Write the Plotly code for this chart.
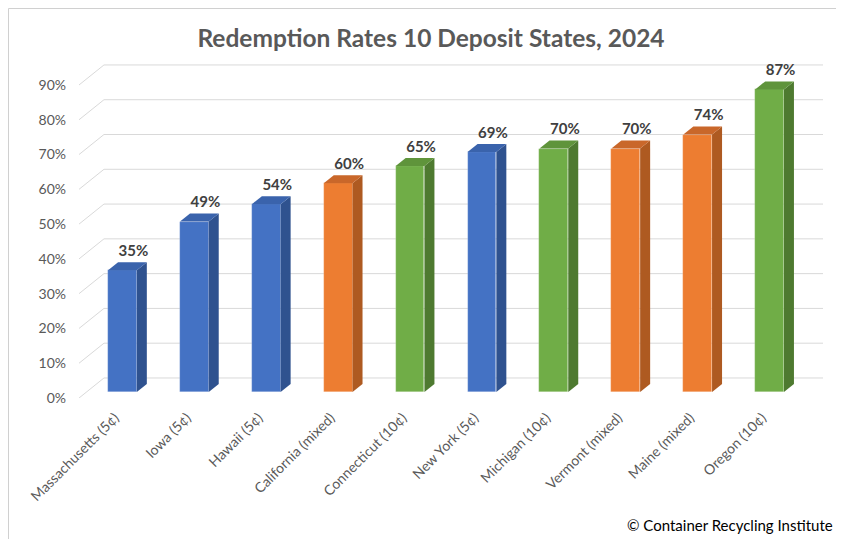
import plotly.graph_objects as go

# ---- data ----
states = ["Massachusetts (5¢)", "Iowa (5¢)", "Hawaii (5¢)", "California (mixed)",
          "Connecticut (10¢)", "New York (5¢)", "Michigan (10¢)", "Vermont (mixed)",
          "Maine (mixed)", "Oregon (10¢)"]
rates = [35, 49, 54, 60, 65, 69, 70, 70, 74, 87]
deposit_type = ["5", "5", "5", "mixed", "10", "5", "10", "mixed", "mixed", "10"]
tick_values = [0, 10, 20, 30, 40, 50, 60, 70, 80, 90]
tick_labels = ["0%", "10%", "20%", "30%", "40%", "50%", "60%", "70%", "80%", "90%"]

# ---- style ----
FONT = "Lato, sans-serif"
colors = {
    "5": ("#4472C4", "#2F528F", "#3A63AC"),
    "mixed": ("#ED7D31", "#AE5A21", "#C9672A"),
    "10": ("#70AD47", "#4E7A30", "#5F943B"),
}
GRID = "#D9D9D9"

W, H = 828, 531            # page adds an 8px body margin
L, R, T, B = 71, 13, 52, 141
PW, PH = W - L - R, H - T - B

# pseudo-3D geometry in data units (x: category units, y: percent units)
BACK_DX, BACK_DY = 0.243, 4.03     # bar plane -> back wall
FRONT_DX, FRONT_DY = -0.104, -1.73  # bar plane -> front floor edge
BAR_W = 0.40
BAR_DX, BAR_DY = 0.139, 2.3         # bar depth
LBL_DX, LBL_DY = 0.153, 5.2

fig = go.Figure()

# front faces
xc = [i + 0.5 for i in range(len(states))]
fig.add_trace(go.Bar(
    x=xc, y=rates, width=BAR_W,
    marker=dict(color=[colors[t][0] for t in deposit_type],
                line=dict(color="rgba(255,255,255,0.35)", width=0.6)),
    hoverinfo="skip", showlegend=False))

# side and top faces
for x, v, t in zip(xc, rates, deposit_type):
    x0, x1 = x - BAR_W / 2, x + BAR_W / 2
    fig.add_trace(go.Scatter(
        x=[x1, x1 + BAR_DX, x1 + BAR_DX, x1, x1],
        y=[0, BAR_DY, v + BAR_DY, v, 0],
        fill="toself", fillcolor=colors[t][1], mode="lines",
        line=dict(width=0, color=colors[t][1]), hoverinfo="skip", showlegend=False))
    fig.add_trace(go.Scatter(
        x=[x0, x1, x1 + BAR_DX, x0 + BAR_DX, x0],
        y=[v, v, v + BAR_DY, v + BAR_DY, v],
        fill="toself", fillcolor=colors[t][2], mode="lines",
        line=dict(width=0, color=colors[t][2]), hoverinfo="skip", showlegend=False))

# data labels
fig.add_trace(go.Scatter(
    x=[x + LBL_DX for x in xc], y=[v + LBL_DY for v in rates],
    mode="text", text=[f"{v}%" for v in rates], textposition="middle center",
    textfont=dict(family=FONT, size=15, color="#404040", weight="bold"),
    hoverinfo="skip", showlegend=False, cliponaxis=False))

# wall gridlines (below traces)
n = len(states)
for v in tick_values:
    fig.add_shape(type="line", layer="below", xref="x", yref="y",
                  x0=BACK_DX, x1=n + BACK_DX, y0=v + BACK_DY, y1=v + BACK_DY,
                  line=dict(color=GRID, width=1))
    fig.add_shape(type="line", layer="below", xref="x", yref="y",
                  x0=FRONT_DX, x1=BACK_DX, y0=v + FRONT_DY, y1=v + BACK_DY,
                  line=dict(color=GRID, width=1))

# chart border (top and left edges visible)
fig.add_shape(type="line", xref="paper", yref="paper", layer="below",
              x0=-(L - 0.5) / PW, x1=(W - L) / PW, y0=1 + (T - 0.5) / PH, y1=1 + (T - 0.5) / PH,
              line=dict(color="#D0D0D0", width=1))
fig.add_shape(type="line", xref="paper", yref="paper", layer="below",
              x0=-(L - 0.5) / PW, x1=-(L - 0.5) / PW, y0=-B / PH, y1=1 + (T - 0.5) / PH,
              line=dict(color="#D0D0D0", width=1))

fig.update_layout(
    width=W, height=H,
    margin=dict(l=L, r=R, t=T, b=B, autoexpand=False),
    paper_bgcolor="white", plot_bgcolor="white",
    font=dict(family=FONT, color="#595959"),
    title=dict(text="Redemption Rates 10 Deposit States, 2024",
               xref="container", yref="container", x=(431 - 8) / W, y=1 - (38 - 8) / H,
               xanchor="center", yanchor="middle",
               font=dict(family=FONT, size=24.5, color="#595959", weight="bold")),
    xaxis=dict(range=[-0.1043, 10.243], tickmode="array",
               tickvals=[x + FRONT_DX for x in xc], ticktext=states,
               tickangle=-45, tickfont=dict(size=14, color="#595959"),
               ticklabelstandoff=8, automargin=False,
               showgrid=False, zeroline=False, showline=False, ticks=""),
    yaxis=dict(range=[-1.725, 95.45], tickmode="array",
               tickvals=[v + FRONT_DY for v in tick_values], ticktext=tick_labels,
               tickfont=dict(size=14, color="#595959"), ticklabelstandoff=12,
               automargin=False,
               showgrid=False, zeroline=False, showline=False, ticks=""),
    bargap=0,
    annotations=[dict(text="© Container Recycling Institute", xref="paper", yref="paper",
                      x=(W - 1 - L) / PW, y=-((525 - 8) - (T + PH)) / PH,
                      xanchor="right", yanchor="middle",
                      showarrow=False, font=dict(family=FONT, size=15, color="#000000"))],
)

fig.write_html("out.html")
